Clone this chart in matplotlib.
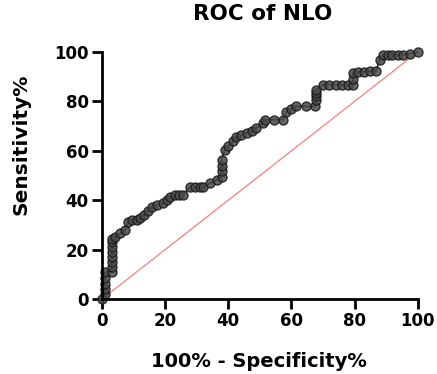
import matplotlib.pyplot as plt

plt.rcParams['font.family'] = ['DejaVu Sans']
plt.rcParams['font.weight'] = 'bold'

# ROC points (100% - specificity, sensitivity)
fpr = [0, 1, 1, 1, 1, 1, 3.2, 3.2, 3.2, 3.2, 3.2, 3.2, 3.2, 3.2,
       4.2, 5.8, 7.4, 8.4, 9.5, 11.1, 12.2, 13.2, 14.5, 15.8, 17.4, 19.5,
       20.5, 21.6, 23.2, 24.5, 25.8, 27.9, 29.5, 31, 32.1, 34.2, 36.3, 37.9,
       37.9, 37.9, 37.9, 38.9, 40, 41.5, 42.6, 44.2, 45.8, 47.4, 48.9, 51.1,
       51.6, 54.5, 57.4, 58.4, 60, 61.6, 64.5, 67.4, 67.9, 67.9, 67.9, 67.9,
       70, 72, 74, 76, 78, 79.5, 79.5, 79.5, 81, 83, 85, 86.8, 87.9, 88.9,
       90.5, 92, 93.7, 95.3, 97.5, 100]
tpr = [0, 2, 4, 6, 8.5, 11, 11, 13, 15, 17, 19, 21, 23, 24.5,
       25.3, 26.6, 28, 31.4, 32, 32, 33, 34, 35.8, 37.4, 38.1, 38.8,
       40, 41.5, 42.2, 42.2, 42.2, 45.5, 45.5, 45.5, 45.5, 46.9, 48.2, 49.6,
       52, 54, 56.4, 60.4, 62, 64, 65.8, 66.5, 67.2, 68.2, 69.2, 71.2, 72.6,
       72.6, 72.6, 75.9, 77, 78, 78, 78, 80.7, 82, 83.5, 84.7, 86.8, 86.8,
       86.8, 86.8, 86.8, 86.8, 89, 91.5, 91.8, 92, 92.2, 92.2, 96.9, 98.9,
       98.9, 98.9, 98.9, 98.9, 99.3, 100]
diag = [0, 100]

fig, ax = plt.subplots(figsize=(4.37, 3.74), dpi=100)
fig.subplots_adjust(left=0.233, right=0.956, bottom=0.2, top=0.861)

ax.plot(diag, diag, color='#f28b8b', lw=1.0, zorder=1)
ax.plot(fpr, tpr, color='black', lw=1.2, marker='o', markersize=6.5,
        markerfacecolor='#4a4a4a', markeredgecolor='#1a1a1a',
        markeredgewidth=1.0, alpha=0.85, zorder=2, clip_on=False)

ax.set_xlim(0, 100)
ax.set_ylim(0, 100)
ax.set_xticks([0, 20, 40, 60, 80, 100])
ax.set_yticks([0, 20, 40, 60, 80, 100])
ax.spines['top'].set_visible(False)
ax.spines['right'].set_visible(False)
ax.spines['left'].set_linewidth(2)
ax.spines['bottom'].set_linewidth(2)
ax.tick_params(width=2, length=7.5, labelsize=12, pad=2)

fig.text(0.602, 0.963, 'ROC of NLO', fontsize=15.5, fontweight='bold',
         ha='center', va='center')
ax.set_xlabel('100% - Specificity%', fontsize=14, fontweight='bold')
ax.set_ylabel('Sensitivity%', fontsize=14.5, fontweight='bold')
ax.xaxis.set_label_coords(0.498, -0.215)
ax.yaxis.set_label_coords(-0.225, 0.627)

plt.savefig('out.png')
